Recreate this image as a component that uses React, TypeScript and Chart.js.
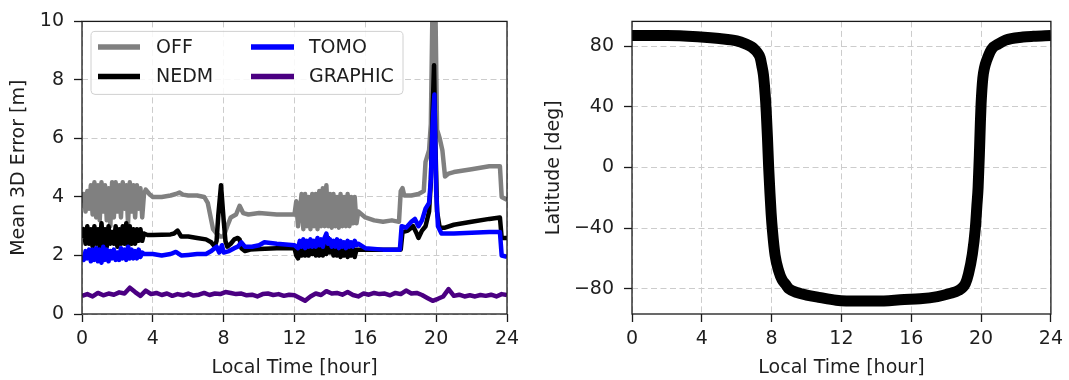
import React, { useEffect, useRef } from 'react';
import { Chart, registerables } from 'chart.js';

Chart.register(...registerables);

const FONT = 'DejaVu Sans';
const TEXT = '#1e1e1e';

// ---------- Left panel data ----------
const hourTicks = [0, 4, 8, 12, 16, 20, 24];
const errorTicks = [0, 2, 4, 6, 8, 10];

const offT = [0.0, 0.1, 0.2, 0.3, 0.4, 0.5, 0.6, 0.7, 0.8, 0.9, 1.0, 1.1, 1.2, 1.3, 1.4, 1.5, 1.6, 1.7, 1.8, 1.9, 2.0, 2.1, 2.2, 2.3, 2.4, 2.5, 2.6, 2.7, 2.8, 2.9, 3.0, 3.1, 3.2, 3.3, 3.4, 3.5, 3.6, 3.8, 4.0, 4.5, 5.0, 5.3, 5.5, 5.7, 6.0, 6.5, 6.9, 7.1, 7.3, 7.4, 7.6, 7.8, 8.0, 8.2, 8.4, 8.7, 8.9, 9.1, 9.4, 10.0, 11.0, 12.0, 12.1, 12.2, 12.3, 12.4, 12.5, 12.6, 12.7, 12.8, 12.9, 13.0, 13.1, 13.2, 13.3, 13.4, 13.5, 13.6, 13.7, 13.8, 13.9, 14.0, 14.1, 14.2, 14.3, 14.4, 14.5, 14.6, 14.7, 14.8, 14.9, 15.0, 15.1, 15.2, 15.3, 15.4, 15.5, 15.6, 15.8, 16.0, 16.5, 17.0, 17.5, 17.9, 18.0, 18.1, 18.2, 18.6, 19.0, 19.3, 19.4, 19.6, 19.7, 19.8, 19.95, 20.05, 20.2, 20.35, 20.5, 20.7, 21.0, 22.0, 23.0, 23.6, 23.7, 24.0];
const offV = [3.8, 4.1, 3.5, 4.2, 3.6, 4.4, 3.4, 4.5, 3.3, 4.4, 3.2, 4.5, 3.5, 4.4, 3.2, 4.3, 3.0, 4.5, 3.3, 4.5, 3.5, 4.4, 3.3, 4.5, 3.6, 4.4, 3.1, 4.5, 3.5, 4.4, 3.3, 4.4, 3.6, 4.3, 3.3, 4.1, 4.25, 4.1, 4.0, 4.0, 4.05, 4.1, 4.15, 4.08, 4.05, 4.05, 4.0, 3.8, 3.2, 2.9, 2.75, 2.65, 2.65, 3.0, 3.3, 3.4, 3.7, 3.45, 3.4, 3.45, 3.4, 3.4, 3.85, 3.0, 3.5, 4.1, 2.9, 4.1, 3.0, 4.0, 2.9, 4.1, 3.0, 4.1, 2.9, 4.2, 3.0, 4.3, 3.0, 4.4, 3.0, 4.1, 2.95, 4.1, 3.0, 4.0, 2.95, 4.1, 3.0, 4.0, 3.0, 4.1, 3.0, 4.0, 3.1, 4.0, 3.1, 3.5, 3.4, 3.3, 3.2, 3.15, 3.2, 3.15, 4.2, 4.3, 4.05, 4.05, 4.1, 4.2, 5.2, 5.6, 6.5, 10.8, 10.8, 6.3, 6.0, 5.6, 4.7, 4.8, 4.85, 4.95, 5.05, 5.05, 4.0, 3.9];

const nedmT = [0.0, 0.1, 0.2, 0.3, 0.4, 0.5, 0.6, 0.7, 0.8, 0.9, 1.0, 1.1, 1.2, 1.3, 1.4, 1.5, 1.6, 1.7, 1.8, 1.9, 2.0, 2.1, 2.2, 2.3, 2.4, 2.5, 2.6, 2.7, 2.8, 2.9, 3.0, 3.1, 3.2, 3.3, 3.4, 3.5, 3.7, 4.0, 5.0, 5.2, 5.4, 5.6, 6.0, 6.5, 7.0, 7.3, 7.5, 7.6, 7.7, 7.85, 8.0, 8.1, 8.2, 8.4, 8.6, 8.8, 8.9, 9.0, 9.2, 9.5, 10.0, 11.0, 12.0, 12.1, 12.2, 12.3, 12.4, 12.5, 12.6, 12.7, 12.8, 12.9, 13.0, 13.1, 13.2, 13.3, 13.4, 13.5, 13.6, 13.7, 13.8, 13.9, 14.0, 14.1, 14.2, 14.3, 14.4, 14.5, 14.6, 14.7, 14.8, 14.9, 15.0, 15.1, 15.2, 15.3, 15.4, 15.5, 15.6, 16.0, 17.0, 18.0, 18.1, 18.4, 18.7, 18.9, 19.0, 19.2, 19.4, 19.6, 19.7, 19.8, 19.88, 19.95, 20.05, 20.2, 20.5, 21.0, 22.0, 23.0, 23.6, 23.7, 24.0];
const nedmV = [2.6, 2.9, 2.4, 3.0, 2.4, 2.9, 2.3, 3.0, 2.4, 2.9, 2.3, 3.1, 2.4, 2.9, 2.3, 3.0, 2.4, 2.8, 2.4, 3.0, 2.3, 2.9, 2.4, 3.0, 2.4, 3.1, 2.3, 3.0, 2.4, 2.9, 2.4, 2.9, 2.5, 2.9, 2.5, 2.75, 2.7, 2.7, 2.72, 2.75, 2.85, 2.65, 2.65, 2.6, 2.55, 2.45, 2.3, 2.5, 3.4, 4.4, 3.2, 2.5, 2.3, 2.4, 2.55, 2.6, 2.55, 2.25, 2.15, 2.2, 2.22, 2.25, 2.25, 2.0, 1.9, 2.3, 2.0, 2.3, 2.0, 2.3, 2.0, 2.3, 2.05, 2.35, 2.0, 2.3, 2.0, 2.35, 2.0, 2.3, 2.05, 2.6, 2.1, 2.35, 2.0, 2.3, 2.0, 2.3, 1.95, 2.3, 2.0, 2.3, 1.95, 2.3, 2.0, 2.3, 1.95, 2.2, 2.2, 2.2, 2.2, 2.2, 2.8, 2.85, 3.0, 2.75, 2.6, 2.85, 3.0, 3.5, 4.5, 7.0, 8.5, 6.0, 3.5, 2.95, 2.95, 3.05, 3.15, 3.25, 3.3, 2.6, 2.6];

const tomoT = [0.0, 0.1, 0.2, 0.3, 0.4, 0.5, 0.6, 0.7, 0.8, 0.9, 1.0, 1.1, 1.2, 1.3, 1.4, 1.5, 1.6, 1.7, 1.8, 1.9, 2.0, 2.1, 2.2, 2.3, 2.4, 2.5, 2.6, 2.7, 2.8, 2.9, 3.0, 3.1, 3.2, 3.3, 3.4, 3.5, 4.0, 4.5, 5.0, 5.3, 5.6, 6.0, 6.5, 7.0, 7.3, 7.6, 7.75, 7.9, 8.0, 8.3, 8.6, 8.8, 9.0, 9.2, 9.6, 10.0, 10.3, 11.0, 12.0, 12.2, 12.3, 12.4, 12.5, 12.6, 12.7, 12.8, 12.9, 13.0, 13.1, 13.2, 13.3, 13.4, 13.5, 13.6, 13.7, 13.8, 13.9, 14.0, 14.1, 14.2, 14.3, 14.4, 14.5, 14.6, 14.7, 14.8, 14.9, 15.0, 15.1, 15.2, 15.3, 15.4, 15.5, 15.6, 16.0, 17.0, 17.95, 18.05, 18.3, 18.6, 18.8, 19.0, 19.2, 19.4, 19.6, 19.7, 19.8, 19.9, 20.0, 20.1, 20.3, 21.0, 22.0, 23.0, 23.6, 23.7, 24.0];
const tomoV = [2.0, 1.85, 2.15, 1.9, 2.2, 1.8, 2.2, 1.85, 2.25, 1.8, 2.2, 1.75, 2.3, 1.85, 2.2, 1.8, 2.15, 1.9, 2.2, 1.85, 2.1, 1.85, 2.25, 1.9, 2.2, 1.85, 2.3, 1.9, 2.2, 1.9, 2.15, 1.9, 2.2, 1.95, 2.1, 2.05, 2.05, 2.0, 2.05, 2.12, 2.0, 2.02, 2.05, 2.05, 2.15, 2.3, 2.1, 2.35, 2.1, 2.15, 2.25, 2.3, 2.45, 2.3, 2.3, 2.35, 2.45, 2.4, 2.35, 2.25, 2.5, 2.3, 2.55, 2.25, 2.5, 2.3, 2.55, 2.3, 2.5, 2.3, 2.6, 2.35, 2.55, 2.3, 2.6, 2.75, 2.4, 2.55, 2.3, 2.5, 2.3, 2.55, 2.25, 2.5, 2.3, 2.45, 2.25, 2.5, 2.3, 2.45, 2.3, 2.5, 2.35, 2.4, 2.25, 2.2, 2.2, 3.0, 2.95, 3.15, 3.25, 3.0, 3.2, 3.6, 3.8, 4.6, 6.5, 7.5, 4.2, 3.0, 2.75, 2.75, 2.78, 2.8, 2.8, 2.0, 1.95];

const graphicT = [0.0, 0.3, 0.6, 0.9, 1.2, 1.5, 1.8, 2.1, 2.4, 2.7, 3.0, 3.3, 3.6, 3.9, 4.2, 4.5, 4.8, 5.1, 5.4, 5.7, 6.0, 6.3, 6.6, 6.9, 7.2, 7.5, 7.8, 8.1, 8.4, 8.7, 9.0, 9.3, 9.6, 9.9, 10.2, 10.5, 10.8, 11.1, 11.4, 11.7, 12.0, 12.3, 12.6, 12.9, 13.2, 13.5, 13.8, 14.1, 14.4, 14.7, 15.0, 15.3, 15.6, 15.9, 16.2, 16.5, 16.8, 17.1, 17.4, 17.7, 18.0, 18.3, 18.6, 18.9, 19.2, 19.5, 19.8, 20.1, 20.4, 20.7, 21.0, 21.3, 21.6, 21.9, 22.2, 22.5, 22.8, 23.1, 23.4, 23.7, 24.0];
const graphicV = [0.62, 0.68, 0.6, 0.72, 0.64, 0.7, 0.66, 0.74, 0.7, 0.9, 0.75, 0.62, 0.8, 0.68, 0.72, 0.65, 0.7, 0.62, 0.68, 0.64, 0.7, 0.63, 0.66, 0.72, 0.65, 0.7, 0.68, 0.75, 0.72, 0.68, 0.7, 0.64, 0.66, 0.6, 0.68, 0.7, 0.65, 0.68, 0.62, 0.66, 0.64, 0.55, 0.45, 0.6, 0.7, 0.65, 0.78, 0.7, 0.72, 0.66, 0.75, 0.65, 0.6, 0.7, 0.66, 0.72, 0.68, 0.7, 0.64, 0.72, 0.68, 0.8, 0.7, 0.72, 0.65, 0.55, 0.45, 0.52, 0.6, 0.85, 0.62, 0.66, 0.6, 0.64, 0.6, 0.65, 0.62, 0.66, 0.6, 0.68, 0.65];

const seriesLabels = ['OFF', 'NEDM', 'TOMO', 'GRAPHIC'];
const seriesColors = ['#808080', '#000000', '#0000ff', '#4b0082'];

// ---------- Right panel data ----------
const latTicks = [-80, -40, 0, 40, 80];
const latT = [0, 2, 3.94, 5, 6.0, 6.5, 6.85, 7.05, 7.2, 7.34, 7.44, 7.53, 7.63, 7.69, 7.76, 7.83, 7.9, 7.97, 8.05, 8.2, 8.4, 8.6, 8.8, 9.0, 9.5, 10.0, 10.7, 11.7, 13.0, 14.0, 15.6, 16.5, 17.5, 18.2, 18.7, 19.1, 19.28, 19.5, 19.67, 19.76, 19.83, 19.9, 19.96, 20.0, 20.1, 20.2, 20.3, 20.6, 21.0, 21.4, 22.4, 23.0, 24.0];
const latV = [87, 87, 86, 85, 83.5, 81.5, 79.5, 77.5, 75.5, 72.5, 67, 61, 48, 37, 20, 0, -16, -30, -42, -58, -68, -74, -77, -80, -82.5, -84, -85.5, -87.4, -88, -88, -87, -86.5, -85, -83, -81, -76.5, -70, -57, -40, -25, -13, 8, 30, 42, 59, 66, 70, 78, 81.5, 84, 86, 86.5, 87];

const toPoints = (t: number[], v: number[]) => t.map((x, i) => ({ x, y: v[i] }));

const framePlugin = {
  id: 'frameBox',
  afterDraw(chart: any) {
    const { ctx, chartArea: a } = chart;
    ctx.save();
    ctx.strokeStyle = '#1a1a1a';
    ctx.lineWidth = 1.3;
    ctx.strokeRect(a.left, a.top, a.right - a.left, a.bottom - a.top);
    ctx.restore();
  },
};

const legendPlugin = {
  id: 'mplLegend',
  afterDatasetsDraw(chart: any) {
    const { ctx, chartArea: a } = chart;
    const ds = chart.data.datasets;
    ctx.save();
    const bx = a.left + 9;
    const by = a.top + 10;
    const bw = 312;
    const bh = 63;
    ctx.beginPath();
    (ctx as any).roundRect(bx, by, bw, bh, 4);
    ctx.fillStyle = 'rgba(255,255,255,0.85)';
    ctx.fill();
    ctx.strokeStyle = '#d0d0d0';
    ctx.lineWidth = 1;
    ctx.stroke();
    const rows = [a.top + 25.5, a.top + 55];
    const cols = [
      { l0: a.left + 16, l1: a.left + 58, tx: a.left + 74 },
      { l0: a.left + 169, l1: a.left + 212, tx: a.left + 227 },
    ];
    ds.forEach((d: any, i: number) => {
      const c = cols[Math.floor(i / 2)];
      const y = rows[i % 2];
      ctx.beginPath();
      ctx.moveTo(c.l0, y);
      ctx.lineTo(c.l1, y);
      ctx.strokeStyle = d.borderColor;
      ctx.lineWidth = 5.5;
      ctx.lineCap = 'butt';
      ctx.stroke();
      ctx.fillStyle = TEXT;
      ctx.font = `19px "${FONT}"`;
      ctx.textBaseline = 'middle';
      ctx.textAlign = 'left';
      ctx.fillText(d.label, c.tx, y + 1);
    });
    ctx.restore();
  },
};

const fmt = (v: number) => (v < 0 ? '\u2212' + Math.abs(v) : String(v));

function axisCommon(ticksList: number[], isX: boolean, title: string, titlePad: any, size: number) {
  return {
    type: 'linear',
    afterBuildTicks: (s: any) => {
      s.ticks = ticksList.map((v) => ({ value: v }));
    },
    afterFit: (s: any) => {
      if (isX) s.height = size;
      else s.width = size;
    },
    grid: {
      color: '#cccccc',
      lineWidth: 1,
      drawTicks: true,
      tickLength: 8,
      tickColor: '#1a1a1a',
      tickWidth: 1.3,
      tickBorderDash: [],
    },
    border: { display: false, dash: [6, 3.5] },
    ticks: {
      font: { family: FONT, size: 19 },
      color: TEXT,
      padding: isX ? 6 : 10,
      maxRotation: 0,
      minRotation: 0,
      autoSkip: false,
      callback: (v: any) => fmt(Number(v)),
    },
    title: {
      display: true,
      text: title,
      font: { family: FONT, size: 19 },
      color: TEXT,
      padding: titlePad,
    },
  };
}

function LeftChart() {
  const ref = useRef<HTMLCanvasElement | null>(null);
  useEffect(() => {
    const tList = [offT, nedmT, tomoT, graphicT];
    const vList = [offV, nedmV, tomoV, graphicV];
    const orders = [4, 3, 2, 1];
    const chart = new Chart(ref.current as HTMLCanvasElement, {
      type: 'line',
      data: {
        datasets: seriesLabels.map((label, i) => ({
          label,
          data: toPoints(tList[i], vList[i]),
          borderColor: seriesColors[i],
          backgroundColor: seriesColors[i],
          borderWidth: 4.5,
          pointRadius: 0,
          tension: 0,
          fill: false,
          clip: 0,
          order: orders[i],
          borderJoinStyle: 'round',
          borderCapStyle: 'butt',
        })),
      } as any,
      options: {
        animation: false,
        responsive: false,
        maintainAspectRatio: false,
        layout: { padding: { left: 0, right: 23, top: 19, bottom: 0 } },
        plugins: { legend: { display: false }, tooltip: { enabled: false } },
        scales: {
          x: { ...axisCommon(hourTicks, true, 'Local Time [hour]', { top: 0, bottom: 0.6 }, 66), min: 0, max: 24 },
          y: { ...axisCommon(errorTicks, false, 'Mean 3D Error [m]', { top: 7.6, bottom: 0 }, 82), min: 0, max: 10 },
        },
      } as any,
      plugins: [legendPlugin, framePlugin],
    });
    return () => chart.destroy();
  }, []);
  return <canvas ref={ref} width={530} height={380} style={{ position: 'absolute', left: 0, top: 0, width: 530, height: 380 }} />;
}

function RightChart() {
  const ref = useRef<HTMLCanvasElement | null>(null);
  useEffect(() => {
    const chart = new Chart(ref.current as HTMLCanvasElement, {
      type: 'line',
      data: {
        datasets: [
          {
            label: 'Latitude',
            data: toPoints(latT, latV),
            borderColor: '#000000',
            backgroundColor: '#000000',
            borderWidth: 11,
            pointRadius: 0,
            cubicInterpolationMode: 'monotone',
            fill: false,
            clip: 0,
            borderJoinStyle: 'round',
            borderCapStyle: 'butt',
          },
        ],
      } as any,
      options: {
        animation: false,
        responsive: false,
        maintainAspectRatio: false,
        layout: { padding: { left: 0, right: 13, top: 19, bottom: 0 } },
        plugins: { legend: { display: false }, tooltip: { enabled: false } },
        scales: {
          x: { ...axisCommon(hourTicks, true, 'Local Time [hour]', { top: 0, bottom: 0.6 }, 66), min: 0, max: 24 },
          y: { ...axisCommon(latTicks, false, 'Latitude [deg]', { top: 12.6, bottom: 0 }, 102), min: -96.5, max: 96.3 },
        },
      } as any,
      plugins: [framePlugin],
    });
    return () => chart.destroy();
  }, []);
  return <canvas ref={ref} width={539} height={380} style={{ position: 'absolute', left: 530, top: 0, width: 539, height: 380 }} />;
}

export default function App() {
  useEffect(() => {
    document.body.style.margin = '0';
  }, []);
  return (
    <div style={{ position: 'absolute', left: 0, top: 0, width: 1069, height: 380, background: '#ffffff', overflow: 'hidden' }}>
      <LeftChart />
      <RightChart />
    </div>
  );
}
